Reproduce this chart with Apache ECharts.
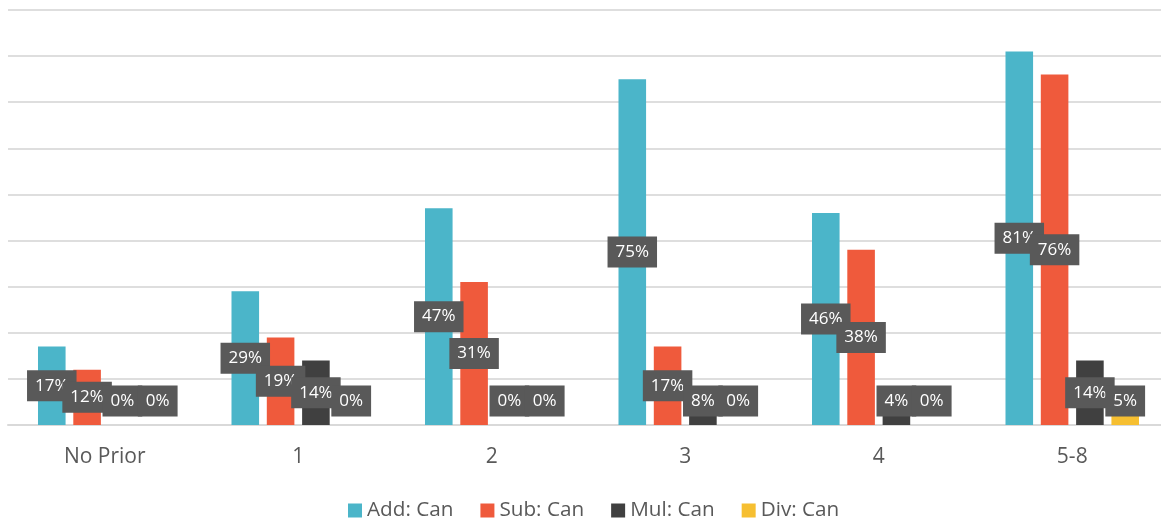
<!DOCTYPE html>
<html><head><meta charset="utf-8">
<script src="https://cdn.jsdelivr.net/npm/echarts@6/dist/echarts.min.js"></script>
<style>html,body{margin:0;padding:0;background:#fff;}#c{width:1161px;height:522px;}</style>
</head><body><div id="c"></div>
<script>
const categories = ['No Prior', '1', '2', '3', '4', '5-8'];
const seriesNames = ['Add: Can', 'Sub: Can', 'Mul: Can', 'Div: Can'];
const addCan = [17, 29, 47, 75, 46, 81];
const subCan = [12, 19, 31, 17, 38, 76];
const mulCan = [0, 14, 0, 8, 4, 14];
const divCan = [0, 0, 0, 0, 0, 5];
const colors = ['#4bb5c9', '#ef5a3c', '#404040', '#f6bf31'];
const values = [addCan, subCan, mulCan, divCan];
const FONT = '"Open Sans", "Noto Sans", sans-serif';

const chart = echarts.init(document.getElementById('c'), null, {renderer: 'canvas'});
chart.setOption({
  animation: false,
  color: colors,
  textStyle: {fontFamily: FONT},
  legend: {
    data: seriesNames,
    left: 348, top: 500, padding: 0,
    itemWidth: 14, itemHeight: 14, itemGap: 27,
    icon: 'rect',
    textStyle: {fontSize: 20.7, color: '#595959', fontFamily: FONT}
  },
  grid: {left: 8, top: 10, width: 1161, bottom: 97, containLabel: false, outerBoundsMode: 'none'},
  xAxis: {
    type: 'category', data: categories,
    axisLine: {lineStyle: {color: '#d9d9d9', width: 2}},
    axisTick: {show: false},
    axisLabel: {fontSize: 21, color: '#595959', margin: 22, fontFamily: FONT}
  },
  yAxis: {
    type: 'value', min: 0, max: 90, interval: 10,
    axisLabel: {show: false}, axisLine: {show: false}, axisTick: {show: false},
    splitLine: {lineStyle: {color: '#dedede', width: 2}}
  },
  series: values.map((v, i) => ({
    name: seriesNames[i], type: 'bar', data: v,
    barGap: '28%', barCategoryGap: '31%',
    itemStyle: {color: colors[i]},
    label: {
      show: true, position: 'inside', formatter: '{c}%',
      color: '#ffffff', fontSize: 17, lineHeight: 19, fontFamily: FONT,
      backgroundColor: '#595959', padding: [6, 8, 6, 8]
    },
    labelLayout: function (p) {
      const h = p.rect.height;
      return {dy: Math.min(0, h / 2 - 24)};
    }
  }))
});
</script></body></html>
